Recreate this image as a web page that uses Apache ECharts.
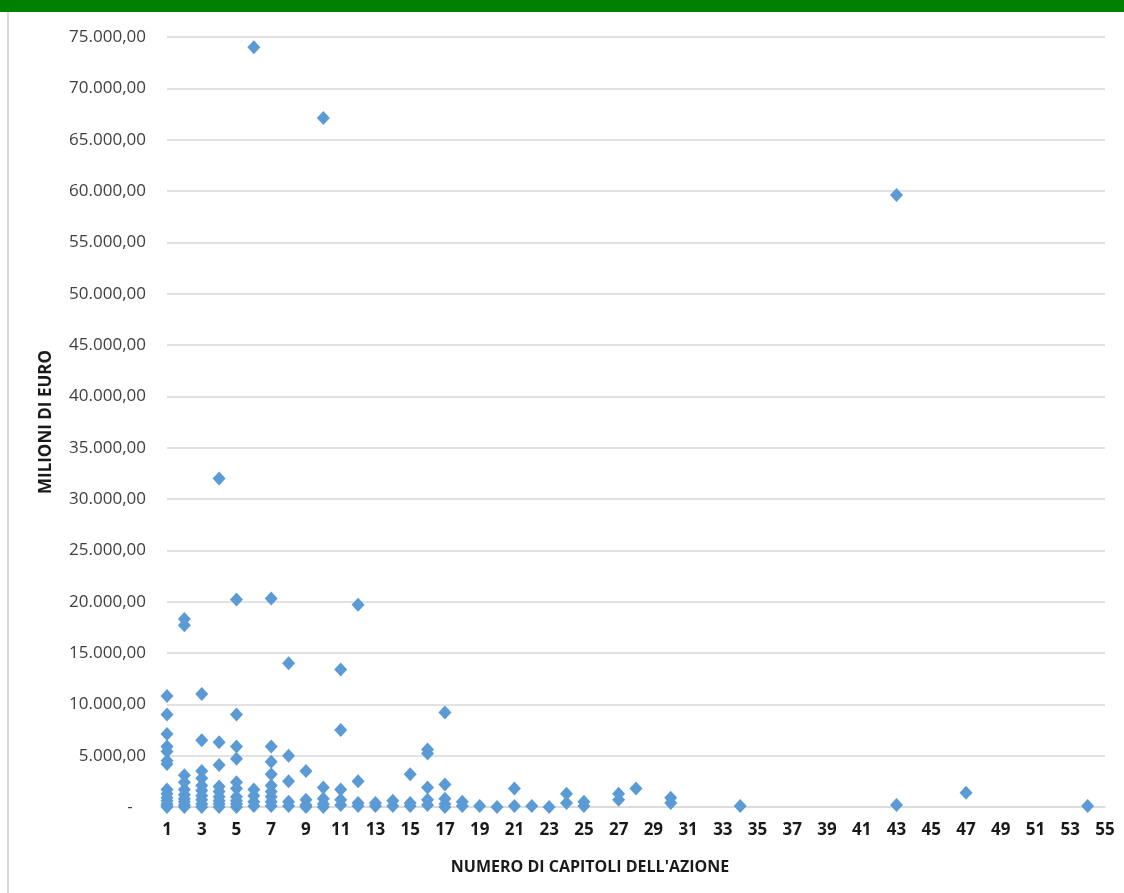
<!DOCTYPE html>
<html>
<head>
<meta charset="utf-8">
<script src="https://cdn.jsdelivr.net/npm/echarts@6/dist/echarts.min.js"></script>
<style>
html,body{margin:0;padding:0;background:#fff;}
#chart{width:1124px;height:893px;}
</style>
</head>
<body>
<div id="chart"></div>
<script>
// Numero di capitoli dell'azione (x) and the values (milioni di euro) observed at each
const capitoli = [1, 2, 3, 4, 5, 6, 7, 8, 9, 10, 11, 12, 13, 14, 15, 16, 17, 18, 19, 20, 21, 22, 23, 24, 25, 27, 28, 30, 34, 43, 47, 54];
const milioni = [
  [10800, 9000, 7100, 5900, 5400, 4500, 4200, 1700, 1300, 900, 600, 300, 100, 0],
  [18300, 17700, 3100, 2400, 1700, 1200, 800, 500, 200, 0],
  [11000, 6500, 3500, 2800, 2100, 1600, 1100, 700, 300, 0],
  [32000, 6300, 4100, 2000, 1500, 1000, 600, 300, 0],
  [20200, 9000, 5900, 4700, 2400, 1800, 1000, 600, 300, 0],
  [74000, 1700, 1100, 500, 100],
  [20300, 5900, 4400, 3200, 2100, 1500, 1000, 500, 100],
  [14000, 5000, 2500, 500, 100],
  [3500, 700, 200, 0],
  [67100, 1900, 800, 300, 0],
  [13400, 7500, 1700, 700, 200],
  [19700, 2500, 400, 100],
  [400, 100],
  [600, 100],
  [3200, 400, 100],
  [5600, 5200, 1900, 700, 200],
  [9200, 2200, 800, 300, 0],
  [500, 100],
  [100],
  [0],
  [1800, 100],
  [100],
  [0],
  [1300, 400],
  [500, 100],
  [1300, 700],
  [1800],
  [900, 400],
  [100],
  [59600, 200],
  [1400],
  [100]
];
const yMin = 0, yMax = 75000, yStep = 5000;
const xMin = 1, xMax = 55;
const xAxisTitle = "NUMERO DI CAPITOLI DELL'AZIONE";
const yAxisTitle = "MILIONI DI EURO";

const points = [];
capitoli.forEach((c, i) => milioni[i].forEach(v => points.push([c, v])));

function fmtIt(v) {
  if (v === 0) return '-   ';
  const s = Math.round(v).toString().replace(/\B(?=(\d{3})+(?!\d))/g, '.');
  return s + ',00';
}

const chart = echarts.init(document.getElementById('chart'), null, {renderer: 'canvas'});
chart.setOption({
  backgroundColor: '#ffffff',
  animation: false,
  graphic: [
    {type: 'rect', shape: {x: 0, y: 0, width: 1124, height: 12}, style: {fill: '#008000'}, z: 10},
    {type: 'rect', shape: {x: 7, y: 12, width: 2, height: 881}, style: {fill: '#d9d9d9'}, z: 10}
  ],
  grid: {left: 167, right: 19, top: 37, bottom: 86, containLabel: false},
  xAxis: {
    type: 'value',
    min: xMin, max: xMax, interval: 1,
    name: xAxisTitle,
    nameLocation: 'middle',
    nameGap: 52,
    nameTextStyle: {fontFamily: 'Open Sans', fontWeight: 'bold', fontSize: 16, color: '#1a1a1a', padding: [0, 92, 0, 0]},
    axisLine: {show: true, lineStyle: {color: '#d9d9d9', width: 1.5}},
    axisTick: {show: false},
    splitLine: {show: false},
    axisLabel: {
      margin: 15,
      fontFamily: 'Open Sans', fontWeight: 'bold', fontSize: 17, color: '#1a1a1a',
      formatter: v => (v % 2 === 1 ? String(v) : '')
    }
  },
  yAxis: {
    type: 'value',
    min: yMin, max: yMax, interval: yStep,
    name: yAxisTitle,
    nameLocation: 'middle',
    nameRotate: 90,
    nameGap: 112,
    nameTextStyle: {fontFamily: 'Open Sans', fontWeight: 'bold', fontSize: 17, color: '#1a1a1a'},
    axisLine: {show: false},
    axisTick: {show: false},
    splitLine: {show: true, lineStyle: {color: '#d9d9d9', width: 1.5}},
    axisLabel: {
      margin: 21,
      fontFamily: 'Open Sans', fontSize: 17, color: '#404040',
      formatter: fmtIt
    }
  },
  series: [{
    type: 'scatter',
    data: points,
    symbol: 'diamond',
    symbolSize: [13, 14],
    itemStyle: {color: '#5B9BD5', opacity: 1},
    z: 5
  }]
});
</script>
</body>
</html>
